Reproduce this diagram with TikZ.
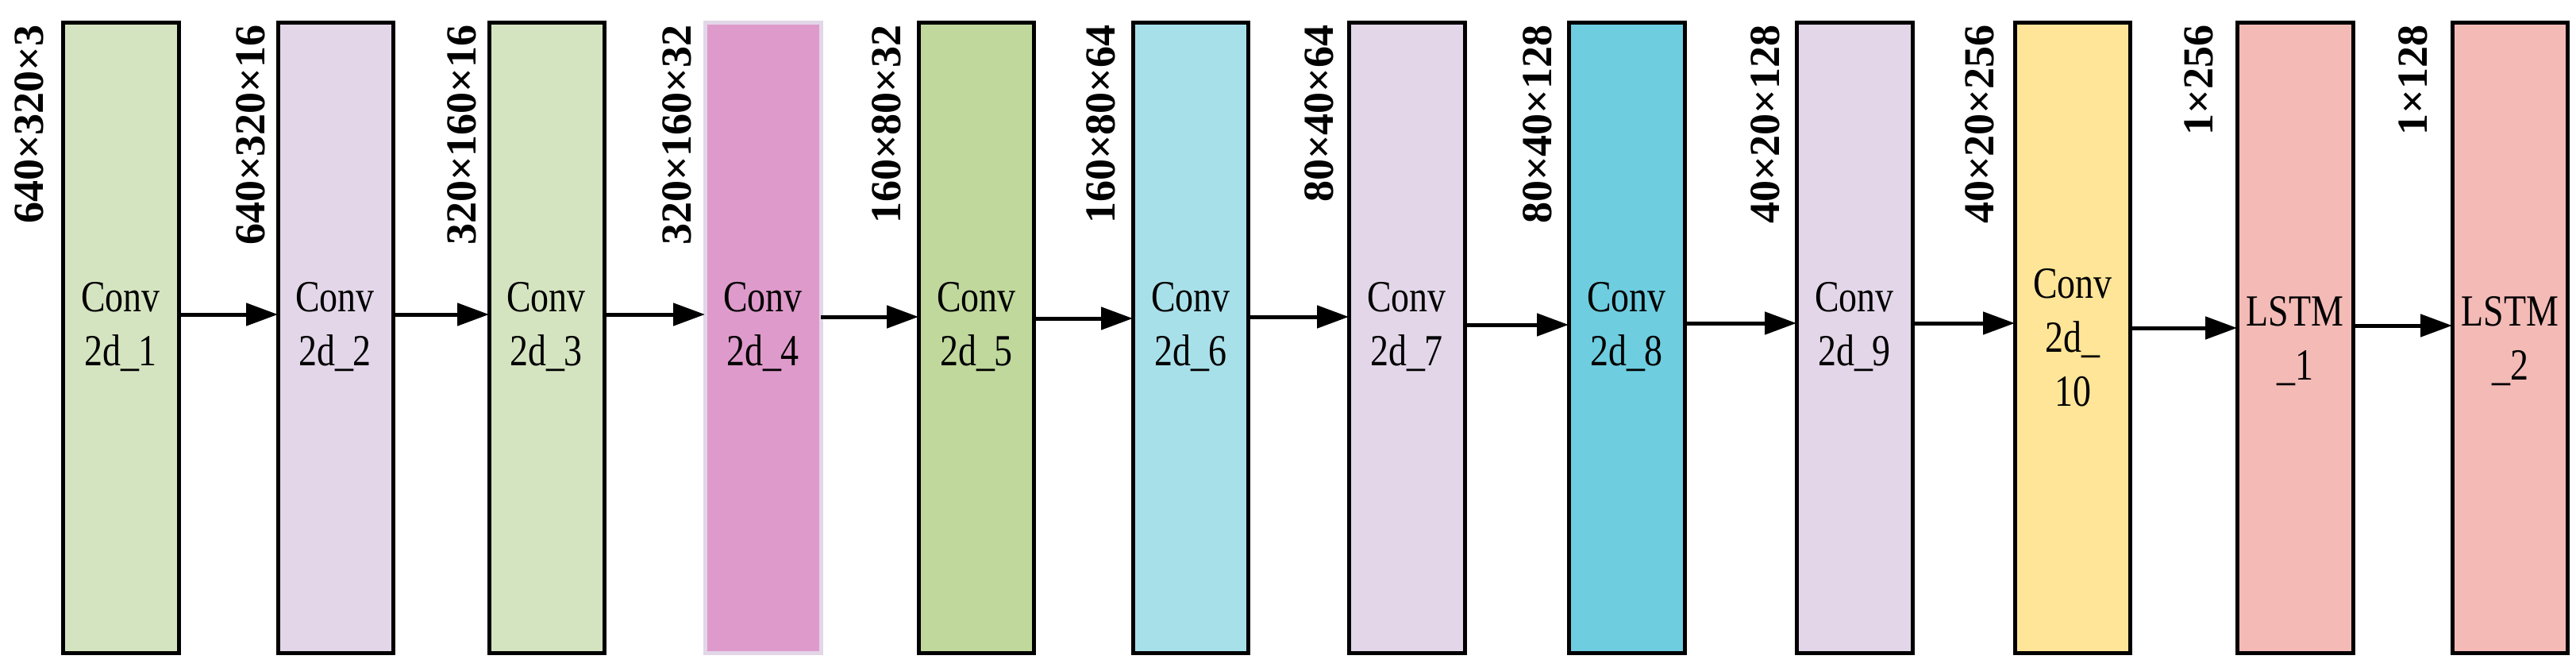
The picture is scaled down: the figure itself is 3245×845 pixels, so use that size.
\documentclass[tikz,border=0pt]{standalone}
\usepackage{fontspec}
\setmainfont{Liberation Serif}
\newfontfamily\condf[FakeStretch=0.82]{Liberation Serif}
\usetikzlibrary{arrows.meta}
\definecolor{g1}{HTML}{D5E4C0}
\definecolor{lv}{HTML}{E2D6E8}
\definecolor{pk}{HTML}{DE9ACB}
\definecolor{g2}{HTML}{C0D89C}
\definecolor{c1}{HTML}{A8E0EA}
\definecolor{c2}{HTML}{6ECDDF}
\definecolor{yl}{HTML}{FEE597}
\definecolor{sl}{HTML}{F3BAB6}
\begin{document}
\begin{tikzpicture}[x=0.5pt,y=-0.5pt,
  box/.style={draw=black,line width=2.5pt},
  txt/.style={align=center,font=\condf\fontsize{28}{34}\selectfont,inner sep=0pt},
  lab/.style={rotate=90,anchor=east,font=\fontsize{27}{32}\selectfont\bfseries,inner sep=0pt},
  arr/.style={-{Triangle[length=20pt,width=14pt]},line width=2.5pt}]
\useasboundingbox (0,0) rectangle (3245,845);
\def\B#1#2#3#4{\path[box,fill=#4] (#2,29) rectangle (#3,822); \coordinate (#1w) at (#2,0); \coordinate (#1e) at (#3,0);}
\B{b1}{79}{225}{g1}
\B{b2}{350}{495}{lv}
\B{b3}{616}{761}{g1}
\path[fill=pk,draw=lv,line width=2.5pt] (888,29) rectangle (1034,822);
\coordinate (b4w) at (888,0); \coordinate (b4e) at (1034,0);
\B{b5}{1157}{1302}{g2}
\B{b6}{1427}{1572}{c1}
\B{b7}{1699}{1845}{lv}
\B{b8}{1976}{2122}{c2}
\B{b9}{2263}{2409}{lv}
\B{b10}{2538}{2683}{yl}
\B{b11}{2818}{2964}{sl}
\B{b12}{3089}{3234}{sl}
\node[txt] (t1) at (152,412) {Conv\\2d\_1};
\node[txt] (t2) at (422,412) {Conv\\2d\_2};
\node[txt] (t3) at (688,412) {Conv\\2d\_3};
\node[txt] (t4) at (961,412) {Conv\\2d\_4};
\node[txt] (t5) at (1230,412) {Conv\\2d\_5};
\node[txt] (t6) at (1500,412) {Conv\\2d\_6};
\node[txt] (t7) at (1772,412) {Conv\\2d\_7};
\node[txt] (t8) at (2049,412) {Conv\\2d\_8};
\node[txt] (t9) at (2336,412) {Conv\\2d\_9};
\node[txt] (t10) at (2611,425) {Conv\\2d\_\\10};
\node[txt] (t11) at (2891,430) {LSTM\\\_1};
\node[txt] (t12) at (3162,430) {LSTM\\\_2};
\node[lab] (l1) at (37,31) {640×320×3};
\node[lab] (l2) at (316,31) {640×320×16};
\node[lab] (l3) at (582,31) {320×160×16};
\node[lab] (l4) at (853,31) {320×160×32};
\node[lab] (l5) at (1117,31) {160×80×32};
\node[lab] (l6) at (1387,31) {160×80×64};
\node[lab] (l7) at (1662,31) {80×40×64};
\node[lab] (l8) at (1937,31) {80×40×128};
\node[lab] (l9) at (2224,31) {40×20×128};
\node[lab] (l10) at (2494,31) {40×20×256};
\node[lab] (l11) at (2770,31) {1×256};
\node[lab] (l12) at (3040,31) {1×128};
\draw[arr] (b1e |- 0,396) -- (b2w |- 0,396);
\draw[arr] (b2e |- 0,396) -- (b3w |- 0,396);
\draw[arr] (b3e |- 0,396) -- (b4w |- 0,396);
\draw[arr] (b4e |- 0,399) -- (b5w |- 0,399);
\draw[arr] (b5e |- 0,401) -- (b6w |- 0,401);
\draw[arr] (b6e |- 0,399) -- (b7w |- 0,399);
\draw[arr] (b7e |- 0,409) -- (b8w |- 0,409);
\draw[arr] (b8e |- 0,407) -- (b9w |- 0,407);
\draw[arr] (b9e |- 0,407) -- (b10w |- 0,407);
\draw[arr] (b10e |- 0,413) -- (b11w |- 0,413);
\draw[arr] (b11e |- 0,410) -- (b12w |- 0,410);
\end{tikzpicture}
\end{document}
